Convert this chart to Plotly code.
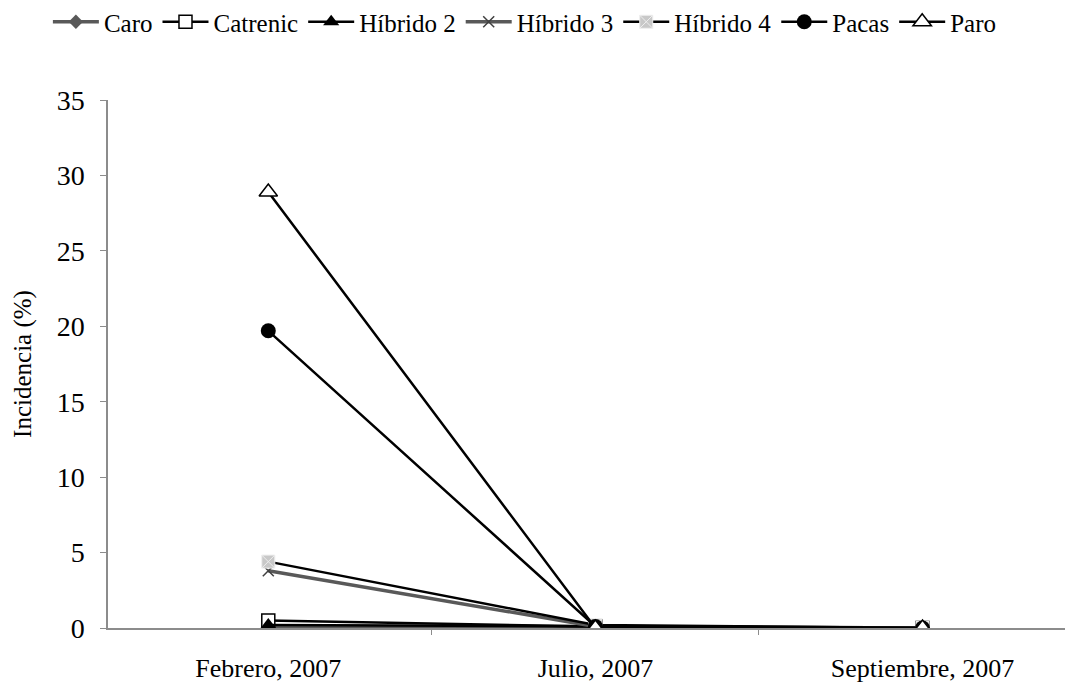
import plotly.graph_objects as go

fechas = ["Febrero, 2007", "Julio, 2007", "Septiembre, 2007"]

caro = [0.1, 0.1, 0.0]
catrenic = [0.5, 0.1, 0.0]
hibrido2 = [0.2, 0.1, 0.0]
hibrido3 = [3.8, 0.1, 0.0]
hibrido4 = [4.4, 0.2, 0.0]
pacas = [19.7, 0.1, 0.0]
paro = [28.9, 0.0, 0.0]

series = [
    ("Caro", caro, "#595959", 3.5, dict(symbol="diamond", size=11, color="#595959")),
    ("Catrenic", catrenic, "black", 2.5,
     dict(symbol="square", size=13, color="white", line=dict(color="black", width=1.5))),
    ("Híbrido 2", hibrido2, "black", 2.5, dict(symbol="triangle-up", size=14, color="black")),
    ("Híbrido 3", hibrido3, "#595959", 3.5,
     dict(symbol="x-thin", size=11, color="#404040", line=dict(color="#404040", width=1.5))),
    ("Híbrido 4", hibrido4, "black", 2.5,
     dict(symbol="square-x", size=13, color="#c8c8c8", line=dict(color="#eeeeee", width=1))),
    ("Pacas", pacas, "black", 2.5, dict(symbol="circle", size=15, color="black")),
    ("Paro", paro, "black", 2.5,
     dict(symbol="triangle-up", size=16, color="white", line=dict(color="black", width=1.5))),
]

fig = go.Figure()

for nombre, valores, color, ancho, marcador in series:
    fig.add_trace(go.Scatter(
        x=fechas,
        y=valores,
        name=nombre,
        mode="lines+markers",
        line=dict(color=color, width=ancho),
        marker=marcador
    ))

# la pagina deja 8 px de margen, se compensa aqui
fig.update_layout(
    width=1065,
    height=676,
    margin=dict(l=100, r=0, t=92, b=56, autoexpand=False),
    paper_bgcolor="white",
    plot_bgcolor="white",
    font=dict(family="Liberation Serif", size=27, color="black"),
    legend=dict(
        orientation="h",
        x=0.432,
        xanchor="center",
        yref="container",
        y=1 - 14 / 676,
        yanchor="middle",
        font=dict(size=25),
        itemwidth=46,
        tracegroupgap=0
    ),
    showlegend=True
)

fig.update_xaxes(
    type="category",
    range=[-0.49, 2.46],
    showline=True,
    linecolor="#8c8c8c",
    linewidth=1.5,
    ticks="outside",
    tickson="boundaries",
    ticklen=5,
    tickcolor="#8c8c8c",
    ticklabelstandoff=16,
    tickfont=dict(size=26),
    showgrid=False,
    zeroline=False
)

fig.update_yaxes(
    range=[0, 35],
    dtick=5,
    showline=True,
    linecolor="#8c8c8c",
    linewidth=1.5,
    ticks="outside",
    ticklen=6,
    tickcolor="#8c8c8c",
    ticklabelstandoff=10,
    tickfont=dict(size=28),
    showgrid=False,
    zeroline=False,
    title=dict(text="Incidencia (%)", font=dict(size=25), standoff=18)
)

fig.write_html("out.html")
